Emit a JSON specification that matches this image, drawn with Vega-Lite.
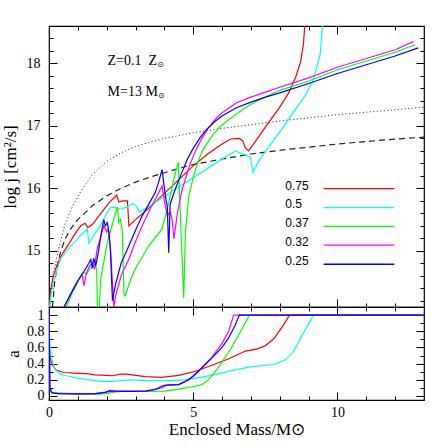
{
"$schema": "https://vega.github.io/schema/vega-lite/v6.json",
"padding": {"left": 0, "top": 24, "right": 5, "bottom": 5},
"config": {"view": {"stroke": "black", "strokeWidth": 1.2}, "font": "Liberation Serif"},
"datasets": {
"dotted": [{"m":0.02,"j":14.1},{"m":0.06,"j":14.3},{"m":0.15,"j":14.6},{"m":0.25,"j":14.85},{"m":0.4,"j":15.15},{"m":0.55,"j":15.42},{"m":0.8,"j":15.7},{"m":1.1,"j":15.95},{"m":1.5,"j":16.22},{"m":2.0,"j":16.43},{"m":2.5,"j":16.57},{"m":3.0,"j":16.67},{"m":3.5,"j":16.74},{"m":4.0,"j":16.8},{"m":5.0,"j":16.89},{"m":6.0,"j":16.96},{"m":7.0,"j":17.02},{"m":8.0,"j":17.08},{"m":9.0,"j":17.13},{"m":10.0,"j":17.18},{"m":11.0,"j":17.22},{"m":12.0,"j":17.26},{"m":13.0,"j":17.3}],
"dashed": [{"m":0.12,"j":14.1},{"m":0.2,"j":14.52},{"m":0.3,"j":14.78},{"m":0.4,"j":14.98},{"m":0.55,"j":15.18},{"m":0.75,"j":15.35},{"m":1.0,"j":15.5},{"m":1.5,"j":15.72},{"m":2.0,"j":15.88},{"m":2.5,"j":16.0},{"m":3.0,"j":16.1},{"m":3.5,"j":16.18},{"m":4.0,"j":16.25},{"m":4.5,"j":16.32},{"m":5.0,"j":16.38},{"m":6.0,"j":16.47},{"m":7.0,"j":16.55},{"m":8.0,"j":16.61},{"m":9.0,"j":16.66},{"m":10.0,"j":16.71},{"m":11.0,"j":16.75},{"m":12.0,"j":16.79},{"m":13.0,"j":16.82}],
"top": [
{"s":"0.75","m":0.02,"j":14.1},{"s":"0.75","m":0.05,"j":14.35},{"s":"0.75","m":0.15,"j":14.6},{"s":"0.75","m":0.3,"j":14.8},{"s":"0.75","m":0.5,"j":14.98},{"s":"0.75","m":0.7,"j":15.12},{"s":"0.75","m":0.9,"j":15.27},{"s":"0.75","m":1.1,"j":15.4},{"s":"0.75","m":1.25,"j":15.44},{"s":"0.75","m":1.35,"j":15.37},{"s":"0.75","m":1.5,"j":15.42},{"s":"0.75","m":1.8,"j":15.6},{"s":"0.75","m":2.1,"j":15.78},{"s":"0.75","m":2.35,"j":15.89},{"s":"0.75","m":2.42,"j":15.78},{"s":"0.75","m":2.55,"j":15.8},{"s":"0.75","m":2.72,"j":15.8},{"s":"0.75","m":2.77,"j":15.4},{"s":"0.75","m":3.0,"j":15.5},{"s":"0.75","m":3.5,"j":15.7},{"s":"0.75","m":4.0,"j":15.92},{"s":"0.75","m":4.5,"j":16.14},{"s":"0.75","m":5.0,"j":16.36},{"s":"0.75","m":5.5,"j":16.55},{"s":"0.75","m":6.0,"j":16.71},{"s":"0.75","m":6.3,"j":16.79},{"s":"0.75","m":6.6,"j":16.8},{"s":"0.75","m":6.72,"j":16.76},{"s":"0.75","m":6.8,"j":16.65},{"s":"0.75","m":6.92,"j":16.6},{"s":"0.75","m":7.2,"j":16.78},{"s":"0.75","m":7.5,"j":16.98},{"s":"0.75","m":8.0,"j":17.3},{"s":"0.75","m":8.3,"j":17.52},{"s":"0.75","m":8.55,"j":17.78},{"s":"0.75","m":8.72,"j":18.02},{"s":"0.75","m":8.82,"j":18.3},{"s":"0.75","m":8.88,"j":18.7},
{"s":"0.5","m":0.02,"j":14.1},{"s":"0.5","m":0.06,"j":14.25},{"s":"0.5","m":0.17,"j":14.54},{"s":"0.5","m":0.4,"j":14.87},{"s":"0.5","m":0.6,"j":15.0},{"s":"0.5","m":0.87,"j":15.13},{"s":"0.5","m":1.1,"j":15.25},{"s":"0.5","m":1.33,"j":15.35},{"s":"0.5","m":1.38,"j":15.12},{"s":"0.5","m":1.6,"j":15.28},{"s":"0.5","m":1.8,"j":15.42},{"s":"0.5","m":2.0,"j":15.6},{"s":"0.5","m":2.15,"j":15.7},{"s":"0.5","m":2.3,"j":15.69},{"s":"0.5","m":2.5,"j":15.67},{"s":"0.5","m":2.7,"j":15.7},{"s":"0.5","m":2.9,"j":15.76},{"s":"0.5","m":3.0,"j":15.73},{"s":"0.5","m":3.15,"j":15.62},{"s":"0.5","m":3.5,"j":15.72},{"s":"0.5","m":4.0,"j":15.87},{"s":"0.5","m":4.56,"j":16.04},{"s":"0.5","m":5.0,"j":16.17},{"s":"0.5","m":5.5,"j":16.32},{"s":"0.5","m":6.0,"j":16.47},{"s":"0.5","m":6.46,"j":16.6},{"s":"0.5","m":6.98,"j":16.5},{"s":"0.5","m":7.07,"j":16.26},{"s":"0.5","m":7.3,"j":16.46},{"s":"0.5","m":7.56,"j":16.63},{"s":"0.5","m":8.0,"j":16.9},{"s":"0.5","m":8.48,"j":17.22},{"s":"0.5","m":8.9,"j":17.5},{"s":"0.5","m":9.17,"j":17.75},{"s":"0.5","m":9.4,"j":18.15},{"s":"0.5","m":9.5,"j":18.7},
{"s":"0.37","m":0.6,"j":14.1},{"s":"0.37","m":0.8,"j":14.32},{"s":"0.37","m":1.0,"j":14.5},{"s":"0.37","m":1.1,"j":14.6},{"s":"0.37","m":1.2,"j":14.66},{"s":"0.37","m":1.3,"j":14.62},{"s":"0.37","m":1.4,"j":14.7},{"s":"0.37","m":1.5,"j":14.75},{"s":"0.37","m":1.6,"j":14.78},{"s":"0.37","m":1.65,"j":14.7},{"s":"0.37","m":1.69,"j":13.9},{"s":"0.37","m":1.73,"j":13.9},{"s":"0.37","m":1.79,"j":14.54},{"s":"0.37","m":2.02,"j":15.13},{"s":"0.37","m":2.25,"j":15.51},{"s":"0.37","m":2.37,"j":15.7},{"s":"0.37","m":2.42,"j":15.45},{"s":"0.37","m":2.48,"j":15.5},{"s":"0.37","m":2.54,"j":15.32},{"s":"0.37","m":2.6,"j":14.3},{"s":"0.37","m":2.64,"j":14.28},{"s":"0.37","m":2.8,"j":14.5},{"s":"0.37","m":3.0,"j":14.72},{"s":"0.37","m":3.46,"j":15.08},{"s":"0.37","m":3.92,"j":15.35},{"s":"0.37","m":4.15,"j":15.77},{"s":"0.37","m":4.33,"j":16.15},{"s":"0.37","m":4.48,"j":16.42},{"s":"0.37","m":4.67,"j":14.25},{"s":"0.37","m":4.73,"j":15.3},{"s":"0.37","m":4.84,"j":15.85},{"s":"0.37","m":5.0,"j":16.18},{"s":"0.37","m":5.13,"j":16.38},{"s":"0.37","m":5.3,"j":16.58},{"s":"0.37","m":5.48,"j":16.72},{"s":"0.37","m":5.7,"j":16.87},{"s":"0.37","m":5.94,"j":16.99},{"s":"0.37","m":6.2,"j":17.09},{"s":"0.37","m":6.52,"j":17.2},{"s":"0.37","m":6.9,"j":17.32},{"s":"0.37","m":7.21,"j":17.4},{"s":"0.37","m":7.67,"j":17.5},{"s":"0.37","m":8.0,"j":17.57},{"s":"0.37","m":9.0,"j":17.72},{"s":"0.37","m":10.0,"j":17.9},{"s":"0.37","m":11.0,"j":18.04},{"s":"0.37","m":12.0,"j":18.18},{"s":"0.37","m":12.69,"j":18.3},
{"s":"0.32","m":0.52,"j":14.1},{"s":"0.32","m":0.8,"j":14.35},{"s":"0.32","m":1.0,"j":14.52},{"s":"0.32","m":1.15,"j":14.62},{"s":"0.32","m":1.21,"j":14.44},{"s":"0.32","m":1.3,"j":14.65},{"s":"0.32","m":1.4,"j":14.75},{"s":"0.32","m":1.5,"j":14.81},{"s":"0.32","m":1.58,"j":14.7},{"s":"0.32","m":1.62,"j":14.87},{"s":"0.32","m":1.67,"j":15.03},{"s":"0.32","m":1.75,"j":15.15},{"s":"0.32","m":1.9,"j":15.4},{"s":"0.32","m":2.0,"j":15.3},{"s":"0.32","m":2.05,"j":15.35},{"s":"0.32","m":2.13,"j":15.03},{"s":"0.32","m":2.25,"j":14.1},{"s":"0.32","m":2.31,"j":14.28},{"s":"0.32","m":2.5,"j":14.6},{"s":"0.32","m":2.77,"j":14.87},{"s":"0.32","m":3.0,"j":15.15},{"s":"0.32","m":3.23,"j":15.4},{"s":"0.32","m":3.5,"j":15.66},{"s":"0.32","m":3.69,"j":15.83},{"s":"0.32","m":3.92,"j":16.04},{"s":"0.32","m":4.0,"j":15.8},{"s":"0.32","m":4.1,"j":15.56},{"s":"0.32","m":4.2,"j":15.62},{"s":"0.32","m":4.27,"j":15.5},{"s":"0.32","m":4.33,"j":15.19},{"s":"0.32","m":4.45,"j":15.6},{"s":"0.32","m":4.6,"j":15.95},{"s":"0.32","m":4.73,"j":16.15},{"s":"0.32","m":4.9,"j":16.4},{"s":"0.32","m":5.1,"j":16.62},{"s":"0.32","m":5.3,"j":16.8},{"s":"0.32","m":5.5,"j":16.95},{"s":"0.32","m":5.75,"j":17.1},{"s":"0.32","m":6.0,"j":17.21},{"s":"0.32","m":6.5,"j":17.37},{"s":"0.32","m":7.0,"j":17.46},{"s":"0.32","m":7.5,"j":17.54},{"s":"0.32","m":8.0,"j":17.62},{"s":"0.32","m":9.0,"j":17.77},{"s":"0.32","m":10.0,"j":17.94},{"s":"0.32","m":11.0,"j":18.08},{"s":"0.32","m":12.0,"j":18.22},{"s":"0.32","m":12.63,"j":18.35},
{"s":"0.25","m":0.52,"j":14.1},{"s":"0.25","m":0.8,"j":14.35},{"s":"0.25","m":1.0,"j":14.52},{"s":"0.25","m":1.2,"j":14.66},{"s":"0.25","m":1.38,"j":14.8},{"s":"0.25","m":1.45,"j":14.86},{"s":"0.25","m":1.5,"j":14.72},{"s":"0.25","m":1.55,"j":14.88},{"s":"0.25","m":1.62,"j":14.76},{"s":"0.25","m":1.7,"j":14.95},{"s":"0.25","m":1.8,"j":15.25},{"s":"0.25","m":1.9,"j":15.5},{"s":"0.25","m":1.95,"j":15.4},{"s":"0.25","m":2.02,"j":15.45},{"s":"0.25","m":2.08,"j":15.3},{"s":"0.25","m":2.13,"j":15.0},{"s":"0.25","m":2.2,"j":14.2},{"s":"0.25","m":2.3,"j":14.45},{"s":"0.25","m":2.5,"j":14.8},{"s":"0.25","m":2.77,"j":15.08},{"s":"0.25","m":3.0,"j":15.33},{"s":"0.25","m":3.23,"j":15.56},{"s":"0.25","m":3.5,"j":15.78},{"s":"0.25","m":3.69,"j":15.94},{"s":"0.25","m":3.8,"j":16.1},{"s":"0.25","m":3.92,"j":16.3},{"s":"0.25","m":4.0,"j":16.0},{"s":"0.25","m":4.06,"j":15.8},{"s":"0.25","m":4.1,"j":15.72},{"s":"0.25","m":4.15,"j":14.97},{"s":"0.25","m":4.2,"j":15.75},{"s":"0.25","m":4.38,"j":15.99},{"s":"0.25","m":4.61,"j":16.26},{"s":"0.25","m":4.8,"j":16.47},{"s":"0.25","m":5.0,"j":16.64},{"s":"0.25","m":5.25,"j":16.82},{"s":"0.25","m":5.5,"j":16.96},{"s":"0.25","m":5.75,"j":17.07},{"s":"0.25","m":6.0,"j":17.16},{"s":"0.25","m":6.5,"j":17.29},{"s":"0.25","m":7.0,"j":17.38},{"s":"0.25","m":7.5,"j":17.46},{"s":"0.25","m":8.0,"j":17.53},{"s":"0.25","m":9.0,"j":17.68},{"s":"0.25","m":10.0,"j":17.84},{"s":"0.25","m":11.0,"j":17.98},{"s":"0.25","m":12.0,"j":18.12},{"s":"0.25","m":12.8,"j":18.25}
],
"bottom": [
{"s":"0.75","m":0,"a":0.62},{"s":"0.75","m":0.05,"a":0.45},{"s":"0.75","m":0.12,"a":0.38},{"s":"0.75","m":0.25,"a":0.32},{"s":"0.75","m":0.5,"a":0.29},{"s":"0.75","m":1.0,"a":0.28},{"s":"0.75","m":1.3,"a":0.275},{"s":"0.75","m":1.6,"a":0.26},{"s":"0.75","m":2.0,"a":0.255},{"s":"0.75","m":2.2,"a":0.25},{"s":"0.75","m":2.5,"a":0.27},{"s":"0.75","m":2.7,"a":0.27},{"s":"0.75","m":3.0,"a":0.255},{"s":"0.75","m":3.35,"a":0.24},{"s":"0.75","m":3.9,"a":0.23},{"s":"0.75","m":4.5,"a":0.255},{"s":"0.75","m":5.08,"a":0.305},{"s":"0.75","m":5.65,"a":0.38},{"s":"0.75","m":6.23,"a":0.46},{"s":"0.75","m":6.81,"a":0.555},{"s":"0.75","m":7.2,"a":0.58},{"s":"0.75","m":7.5,"a":0.62},{"s":"0.75","m":7.8,"a":0.71},{"s":"0.75","m":8.1,"a":0.86},{"s":"0.75","m":8.34,"a":1.0},{"s":"0.75","m":13,"a":1.0},
{"s":"0.5","m":0,"a":0.8},{"s":"0.5","m":0.05,"a":0.55},{"s":"0.5","m":0.1,"a":0.45},{"s":"0.5","m":0.2,"a":0.33},{"s":"0.5","m":0.4,"a":0.27},{"s":"0.5","m":0.6,"a":0.25},{"s":"0.5","m":1.0,"a":0.22},{"s":"0.5","m":1.4,"a":0.2},{"s":"0.5","m":1.8,"a":0.18},{"s":"0.5","m":2.2,"a":0.18},{"s":"0.5","m":2.8,"a":0.2},{"s":"0.5","m":3.4,"a":0.19},{"s":"0.5","m":4.1,"a":0.19},{"s":"0.5","m":4.67,"a":0.2},{"s":"0.5","m":5.25,"a":0.23},{"s":"0.5","m":5.83,"a":0.27},{"s":"0.5","m":6.4,"a":0.32},{"s":"0.5","m":6.98,"a":0.36},{"s":"0.5","m":7.56,"a":0.38},{"s":"0.5","m":7.9,"a":0.4},{"s":"0.5","m":8.2,"a":0.45},{"s":"0.5","m":8.48,"a":0.55},{"s":"0.5","m":8.82,"a":0.78},{"s":"0.5","m":9.17,"a":1.0},{"s":"0.5","m":13,"a":1.0},
{"s":"0.37","m":0,"a":1.0},{"s":"0.37","m":0.03,"a":0.1},{"s":"0.37","m":0.1,"a":0.04},{"s":"0.37","m":1.0,"a":0.025},{"s":"0.37","m":1.6,"a":0.02},{"s":"0.37","m":2.0,"a":0.03},{"s":"0.37","m":2.3,"a":0.05},{"s":"0.37","m":2.77,"a":0.06},{"s":"0.37","m":3.35,"a":0.055},{"s":"0.37","m":4.0,"a":0.06},{"s":"0.37","m":4.5,"a":0.085},{"s":"0.37","m":5.08,"a":0.12},{"s":"0.37","m":5.3,"a":0.14},{"s":"0.37","m":5.5,"a":0.19},{"s":"0.37","m":5.7,"a":0.27},{"s":"0.37","m":6.0,"a":0.42},{"s":"0.37","m":6.3,"a":0.58},{"s":"0.37","m":6.63,"a":0.79},{"s":"0.37","m":6.95,"a":1.0},{"s":"0.37","m":13,"a":1.0},
{"s":"0.32","m":0,"a":1.0},{"s":"0.32","m":0.03,"a":0.1},{"s":"0.32","m":0.1,"a":0.04},{"s":"0.32","m":0.3,"a":0.03},{"s":"0.32","m":1.0,"a":0.025},{"s":"0.32","m":1.6,"a":0.03},{"s":"0.32","m":2.0,"a":0.05},{"s":"0.32","m":2.3,"a":0.06},{"s":"0.32","m":3.35,"a":0.06},{"s":"0.32","m":3.9,"a":0.1},{"s":"0.32","m":4.1,"a":0.135},{"s":"0.32","m":4.5,"a":0.14},{"s":"0.32","m":4.84,"a":0.2},{"s":"0.32","m":5.25,"a":0.33},{"s":"0.32","m":5.65,"a":0.48},{"s":"0.32","m":6.0,"a":0.65},{"s":"0.32","m":6.23,"a":0.8},{"s":"0.32","m":6.4,"a":1.0},{"s":"0.32","m":13,"a":1.0},
{"s":"0.25","m":0,"a":1.0},{"s":"0.25","m":0.03,"a":0.1},{"s":"0.25","m":0.1,"a":0.04},{"s":"0.25","m":0.3,"a":0.03},{"s":"0.25","m":1.0,"a":0.025},{"s":"0.25","m":1.6,"a":0.03},{"s":"0.25","m":1.96,"a":0.045},{"s":"0.25","m":2.1,"a":0.065},{"s":"0.25","m":2.3,"a":0.06},{"s":"0.25","m":2.77,"a":0.055},{"s":"0.25","m":3.35,"a":0.06},{"s":"0.25","m":3.7,"a":0.08},{"s":"0.25","m":3.9,"a":0.12},{"s":"0.25","m":4.04,"a":0.135},{"s":"0.25","m":4.5,"a":0.14},{"s":"0.25","m":4.84,"a":0.2},{"s":"0.25","m":5.02,"a":0.25},{"s":"0.25","m":5.25,"a":0.33},{"s":"0.25","m":5.65,"a":0.47},{"s":"0.25","m":6.0,"a":0.6},{"s":"0.25","m":6.23,"a":0.72},{"s":"0.25","m":6.45,"a":0.87},{"s":"0.25","m":6.6,"a":1.0},{"s":"0.25","m":13,"a":1.0}
]
},
"vconcat": [
{
"width": 375, "height": 281,
"layer": [
{"data": {"name": "dotted"},
 "mark": {"type": "line", "color": "#222222", "strokeWidth": 1, "strokeDash": [1, 2.5], "clip": true},
 "encoding": {
  "x": {"field": "m", "type": "quantitative", "scale": {"domain": [0, 13], "nice": false, "zero": false},
        "axis": {"orient": "bottom", "values": [1,2,3,4,5,6,7,8,9,10,11,12], "labels": false, "domain": false, "grid": false, "title": null, "tickColor": "black", "tickWidth": 1, "tickSize": {"condition": {"test": "datum.value % 5 === 0", "value": -8}, "value": -4}}},
  "y": {"field": "j", "type": "quantitative", "scale": {"domain": [14.1, 18.6], "nice": false, "zero": false},
        "axis": {"orient": "left", "values": [14.2,14.4,14.6,14.8,15,15.2,15.4,15.6,15.8,16,16.2,16.4,16.6,16.8,17,17.2,17.4,17.6,17.8,18,18.2,18.4],
                 "labelExpr": "abs(datum.value-round(datum.value))<0.01 ? format(datum.value,'d') : ''",
                 "labelFont": "Liberation Serif", "labelFontSize": 14, "labelColor": "black", "labelPadding": 17, "labelOverlap": false, "labelFlush": false,
                 "domain": false, "grid": false, "tickColor": "black", "tickWidth": 1,
                 "tickSize": {"condition": {"test": "abs(datum.value-round(datum.value))<0.01", "value": -8}, "value": -4},
                 "title": "log j [cm²/s]", "titleFont": "Liberation Serif", "titleFontSize": 17, "titleFontWeight": "normal", "titleColor": "black",
                 "titleX": -34, "titleY": 140.5, "titleBaseline": "alphabetic"}}
 }},
{"data": {"name": "dashed"},
 "mark": {"type": "line", "color": "#222222", "strokeWidth": 1.2, "strokeDash": [6, 4], "clip": true},
 "encoding": {
  "x": {"field": "m", "type": "quantitative", "scale": {"domain": [0, 13], "nice": false, "zero": false},
        "axis": {"orient": "top", "values": [1,2,3,4,5,6,7,8,9,10,11,12], "labels": false, "domain": false, "grid": false, "title": null, "tickColor": "black", "tickWidth": 1, "tickSize": {"condition": {"test": "datum.value % 5 === 0", "value": -8}, "value": -4}}},
  "y": {"field": "j", "type": "quantitative", "scale": {"domain": [14.1, 18.6], "nice": false, "zero": false},
        "axis": {"orient": "right", "values": [14.2,14.4,14.6,14.8,15,15.2,15.4,15.6,15.8,16,16.2,16.4,16.6,16.8,17,17.2,17.4,17.6,17.8,18,18.2,18.4], "labels": false, "domain": false, "grid": false, "title": null, "tickColor": "black", "tickWidth": 1,
                 "tickSize": {"condition": {"test": "abs(datum.value-round(datum.value))<0.01", "value": -8}, "value": -4}}}
 }},
{"data": {"name": "top"},
 "mark": {"type": "line", "strokeWidth": 1.2, "clip": true},
 "encoding": {
  "x": {"field": "m", "type": "quantitative", "scale": {"domain": [0, 13], "nice": false, "zero": false}, "axis": null},
  "y": {"field": "j", "type": "quantitative", "scale": {"domain": [14.1, 18.6], "nice": false, "zero": false}, "axis": null},
  "color": {"field": "s", "type": "nominal", "scale": {"domain": ["0.75","0.5","0.37","0.32","0.25"], "range": ["#ff0000","#00ffff","#00ff00","#ff00ff","#0000ff"]}, "legend": null}
 }},
{"data": {"values": [{}]},
 "mark": {"type": "text", "align": "left", "baseline": "alphabetic", "font": "Liberation Serif", "fontSize": 14, "color": "black"},
 "encoding": {"x": {"datum": 2.03, "type": "quantitative", "scale": {"domain": [0, 13], "nice": false, "zero": false}, "axis": null},
              "y": {"datum": 17.97, "type": "quantitative", "scale": {"domain": [14.1, 18.6], "nice": false, "zero": false}, "axis": null},
              "text": {"value": "Z=0.1\u00a0\u00a0Z"}}},
{"data": {"values": [{}]},
 "mark": {"type": "text", "align": "left", "baseline": "alphabetic", "font": "Liberation Serif", "fontSize": 14, "color": "black"},
 "encoding": {"x": {"datum": 2.03, "type": "quantitative", "scale": {"domain": [0, 13], "nice": false, "zero": false}, "axis": null},
              "y": {"datum": 17.48, "type": "quantitative", "scale": {"domain": [14.1, 18.6], "nice": false, "zero": false}, "axis": null},
              "text": {"value": "M=13\u00a0M"}}},
{"data": {"values": [{}]},
 "mark": {"type": "text", "align": "left", "baseline": "middle", "font": "DejaVu Sans", "fontSize": 8, "color": "black"},
 "encoding": {"x": {"datum": 3.75, "type": "quantitative", "scale": {"domain": [0, 13], "nice": false, "zero": false}, "axis": null},
              "y": {"datum": 17.97, "type": "quantitative", "scale": {"domain": [14.1, 18.6], "nice": false, "zero": false}, "axis": null},
              "text": {"value": "⊙"}}},
{"data": {"values": [{}]},
 "mark": {"type": "text", "align": "left", "baseline": "middle", "font": "DejaVu Sans", "fontSize": 8, "color": "black"},
 "encoding": {"x": {"datum": 3.78, "type": "quantitative", "scale": {"domain": [0, 13], "nice": false, "zero": false}, "axis": null},
              "y": {"datum": 17.48, "type": "quantitative", "scale": {"domain": [14.1, 18.6], "nice": false, "zero": false}, "axis": null},
              "text": {"value": "⊙"}}},
{"data": {"values": [{}]}, "mark": {"type": "text", "align": "left", "baseline": "middle", "font": "Liberation Sans", "fontSize": 12, "color": "black"},
 "encoding": {"x": {"datum": 8.19, "type": "quantitative", "scale": {"domain": [0, 13], "nice": false, "zero": false}, "axis": null}, "y": {"datum": 16.04, "type": "quantitative", "scale": {"domain": [14.1, 18.6], "nice": false, "zero": false}, "axis": null}, "text": {"value": "0.75"}}},
{"data": {"values": [{}]}, "mark": {"type": "text", "align": "left", "baseline": "middle", "font": "Liberation Sans", "fontSize": 12, "color": "black"},
 "encoding": {"x": {"datum": 8.19, "type": "quantitative", "scale": {"domain": [0, 13], "nice": false, "zero": false}, "axis": null}, "y": {"datum": 15.75, "type": "quantitative", "scale": {"domain": [14.1, 18.6], "nice": false, "zero": false}, "axis": null}, "text": {"value": "0.5"}}},
{"data": {"values": [{}]}, "mark": {"type": "text", "align": "left", "baseline": "middle", "font": "Liberation Sans", "fontSize": 12, "color": "black"},
 "encoding": {"x": {"datum": 8.19, "type": "quantitative", "scale": {"domain": [0, 13], "nice": false, "zero": false}, "axis": null}, "y": {"datum": 15.44, "type": "quantitative", "scale": {"domain": [14.1, 18.6], "nice": false, "zero": false}, "axis": null}, "text": {"value": "0.37"}}},
{"data": {"values": [{}]}, "mark": {"type": "text", "align": "left", "baseline": "middle", "font": "Liberation Sans", "fontSize": 12, "color": "black"},
 "encoding": {"x": {"datum": 8.19, "type": "quantitative", "scale": {"domain": [0, 13], "nice": false, "zero": false}, "axis": null}, "y": {"datum": 15.14, "type": "quantitative", "scale": {"domain": [14.1, 18.6], "nice": false, "zero": false}, "axis": null}, "text": {"value": "0.32"}}},
{"data": {"values": [{}]}, "mark": {"type": "text", "align": "left", "baseline": "middle", "font": "Liberation Sans", "fontSize": 12, "color": "black"},
 "encoding": {"x": {"datum": 8.19, "type": "quantitative", "scale": {"domain": [0, 13], "nice": false, "zero": false}, "axis": null}, "y": {"datum": 14.84, "type": "quantitative", "scale": {"domain": [14.1, 18.6], "nice": false, "zero": false}, "axis": null}, "text": {"value": "0.25"}}},
{"data": {"values": [{}]}, "mark": {"type": "rule", "color": "#ff0000", "strokeWidth": 1.3},
 "encoding": {"x": {"datum": 9.52, "type": "quantitative", "scale": {"domain": [0, 13], "nice": false, "zero": false}, "axis": null}, "x2": {"datum": 11.97}, "y": {"datum": 15.995, "type": "quantitative", "scale": {"domain": [14.1, 18.6], "nice": false, "zero": false}, "axis": null}}},
{"data": {"values": [{}]}, "mark": {"type": "rule", "color": "#00ffff", "strokeWidth": 1.3},
 "encoding": {"x": {"datum": 9.52, "type": "quantitative", "scale": {"domain": [0, 13], "nice": false, "zero": false}, "axis": null}, "x2": {"datum": 11.97}, "y": {"datum": 15.69, "type": "quantitative", "scale": {"domain": [14.1, 18.6], "nice": false, "zero": false}, "axis": null}}},
{"data": {"values": [{}]}, "mark": {"type": "rule", "color": "#00ff00", "strokeWidth": 1.3},
 "encoding": {"x": {"datum": 9.52, "type": "quantitative", "scale": {"domain": [0, 13], "nice": false, "zero": false}, "axis": null}, "x2": {"datum": 11.97}, "y": {"datum": 15.39, "type": "quantitative", "scale": {"domain": [14.1, 18.6], "nice": false, "zero": false}, "axis": null}}},
{"data": {"values": [{}]}, "mark": {"type": "rule", "color": "#ff00ff", "strokeWidth": 1.3},
 "encoding": {"x": {"datum": 9.52, "type": "quantitative", "scale": {"domain": [0, 13], "nice": false, "zero": false}, "axis": null}, "x2": {"datum": 11.97}, "y": {"datum": 15.09, "type": "quantitative", "scale": {"domain": [14.1, 18.6], "nice": false, "zero": false}, "axis": null}}},
{"data": {"values": [{}]}, "mark": {"type": "rule", "color": "#0000ff", "strokeWidth": 1.3},
 "encoding": {"x": {"datum": 9.52, "type": "quantitative", "scale": {"domain": [0, 13], "nice": false, "zero": false}, "axis": null}, "x2": {"datum": 11.97}, "y": {"datum": 14.785, "type": "quantitative", "scale": {"domain": [14.1, 18.6], "nice": false, "zero": false}, "axis": null}}}
],
"resolve": {"axis": {"x": "independent", "y": "independent"}}
},
{
"width": 375, "height": 93,
"layer": [
{"data": {"name": "bottom"},
 "transform": [{"filter": {"field": "s", "oneOf": ["0.75", "0.5"]}}],
 "mark": {"type": "line", "strokeWidth": 1.2, "clip": true},
 "encoding": {
  "x": {"field": "m", "type": "quantitative", "scale": {"domain": [0, 13], "nice": false, "zero": false},
        "axis": {"orient": "bottom", "values": [0,1,2,3,4,5,6,7,8,9,10,11,12], "labelExpr": "datum.value % 5 === 0 ? datum.label : ''",
                 "labelFont": "Liberation Serif", "labelFontSize": 14, "labelColor": "black", "labelPadding": 13, "labelOverlap": false, "labelFlush": false,
                 "domain": false, "grid": false, "tickColor": "black", "tickWidth": 1,
                 "tickSize": {"condition": {"test": "datum.value % 5 === 0", "value": -8}, "value": -4},
                 "title": "Enclosed Mass/M⊙", "titleFont": "Liberation Serif", "titleFontSize": 17, "titleFontWeight": "normal", "titleColor": "black",
                 "titleX": 187.5, "titleY": 34, "titleBaseline": "alphabetic"}},
  "y": {"field": "a", "type": "quantitative", "scale": {"domain": [-0.05, 1.1], "nice": false, "zero": false},
        "axis": {"orient": "left", "values": [0,0.1,0.2,0.3,0.4,0.5,0.6,0.7,0.8,0.9,1],
                 "labelExpr": "abs(datum.value*5-round(datum.value*5))<0.01 ? format(datum.value,'~g') : ''",
                 "labelFont": "Liberation Serif", "labelFontSize": 14, "labelColor": "black", "labelPadding": 13, "labelOverlap": false, "labelFlush": false,
                 "domain": false, "grid": false, "tickColor": "black", "tickWidth": 1,
                 "tickSize": {"condition": {"test": "abs(datum.value*5-round(datum.value*5))<0.01", "value": -8}, "value": -4},
                 "title": "a", "titleFont": "Liberation Serif", "titleFontSize": 17, "titleFontWeight": "normal", "titleColor": "black",
                 "titleX": -31, "titleY": 46.5, "titleBaseline": "alphabetic"}},
  "color": {"field": "s", "type": "nominal", "scale": {"domain": ["0.75","0.5","0.37","0.32","0.25"], "range": ["#ff0000","#00ffff","#00ff00","#ff00ff","#0000ff"]}, "legend": null}
 }},
{"data": {"name": "bottom"},
 "transform": [{"filter": {"field": "s", "oneOf": ["0.37", "0.32", "0.25"]}}],
 "mark": {"type": "line", "strokeWidth": 1.2, "clip": true},
 "encoding": {
  "x": {"field": "m", "type": "quantitative", "scale": {"domain": [0, 13], "nice": false, "zero": false},
        "axis": {"orient": "top", "values": [1,2,3,4,5,6,7,8,9,10,11,12], "labels": false, "domain": false, "grid": false, "title": null, "tickColor": "black", "tickWidth": 1, "tickSize": {"condition": {"test": "datum.value % 5 === 0", "value": -8}, "value": -4}}},
  "y": {"field": "a", "type": "quantitative", "scale": {"domain": [-0.05, 1.1], "nice": false, "zero": false},
        "axis": {"orient": "right", "values": [0,0.1,0.2,0.3,0.4,0.5,0.6,0.7,0.8,0.9,1], "labels": false, "domain": false, "grid": false, "title": null, "tickColor": "black", "tickWidth": 1,
                 "tickSize": {"condition": {"test": "abs(datum.value*5-round(datum.value*5))<0.01", "value": -8}, "value": -4}}},
  "color": {"field": "s", "type": "nominal", "scale": {"domain": ["0.75","0.5","0.37","0.32","0.25"], "range": ["#ff0000","#00ffff","#00ff00","#ff00ff","#0000ff"]}, "legend": null}
 }}
],
"resolve": {"axis": {"x": "independent", "y": "independent"}}
}
],
"spacing": 0,
"bounds": "flush"
}
